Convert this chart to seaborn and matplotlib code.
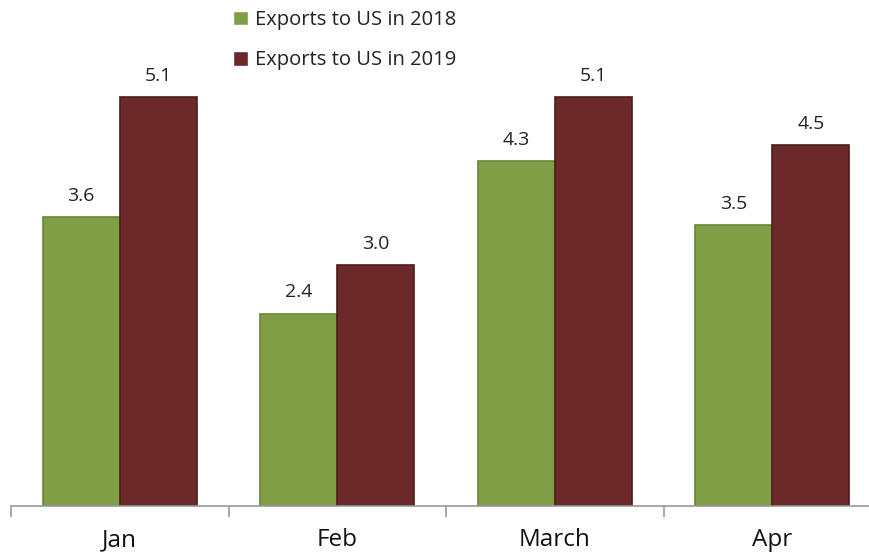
import matplotlib
matplotlib.use("Agg")
import matplotlib.pyplot as plt
import seaborn as sns
import pandas as pd
from matplotlib.ticker import FixedLocator

months = ["Jan", "Feb", "March", "Apr"]
exports_2018 = [3.6, 2.4, 4.3, 3.5]
exports_2019 = [5.1, 3.0, 5.1, 4.5]
series_names = ["Exports to US in 2018", "Exports to US in 2019"]

df = pd.DataFrame({
    "month": months * 2,
    "value": exports_2018 + exports_2019,
    "series": [series_names[0]] * 4 + [series_names[1]] * 4,
})

sns.set_theme(style="white")
plt.rcParams["font.family"] = ["Open Sans", "DejaVu Sans"]

fig = plt.figure(figsize=(8.69, 5.56), dpi=100)
ax = fig.add_axes([11 / 869, 1 - 506 / 556, 870 / 869, 506 / 556])

palette = {series_names[0]: "#809E46", series_names[1]: "#6B2929"}
edges = {series_names[0]: "#6A8737", series_names[1]: "#4E1C1C"}

sns.barplot(data=df, x="month", y="value", hue="series", palette=palette,
            width=0.71, ax=ax, saturation=1, legend=True)

for cont, name in zip(ax.containers, series_names):
    for bar in cont:
        bar.set_edgecolor(edges[name])
        bar.set_linewidth(1.2)
    ax.bar_label(cont, labels=[f"{v:.1f}" for v in cont.datavalues],
                 padding=9, fontsize=14, color="#222222")

ax.set_xlim(-0.5, 3.5)
ax.set_ylim(0, 6.31)
ax.set_xlabel("")
ax.set_ylabel("")
ax.set_yticks([])
for s in ["top", "right", "left"]:
    ax.spines[s].set_visible(False)
ax.spines["bottom"].set_color("#999999")
ax.spines["bottom"].set_linewidth(1.2)

ax.xaxis.set_minor_locator(FixedLocator([-0.5, 0.5, 1.5, 2.5, 3.5]))
ax.tick_params(axis="x", which="major", length=0, labelsize=17.5, pad=16,
               labelcolor="#111111")
ax.tick_params(axis="x", which="minor", length=8, width=1.2, color="#999999",
               bottom=True)

leg = ax.legend(loc="upper left", bbox_to_anchor=(214 / 870, 0.996),
                frameon=False, fontsize=14.5, handlelength=0.75, handleheight=0.75,
                handletextpad=0.35, labelspacing=1.0, borderaxespad=0)
for txt in leg.get_texts():
    txt.set_color("#222222")

fig.savefig("out.png", dpi=100)
